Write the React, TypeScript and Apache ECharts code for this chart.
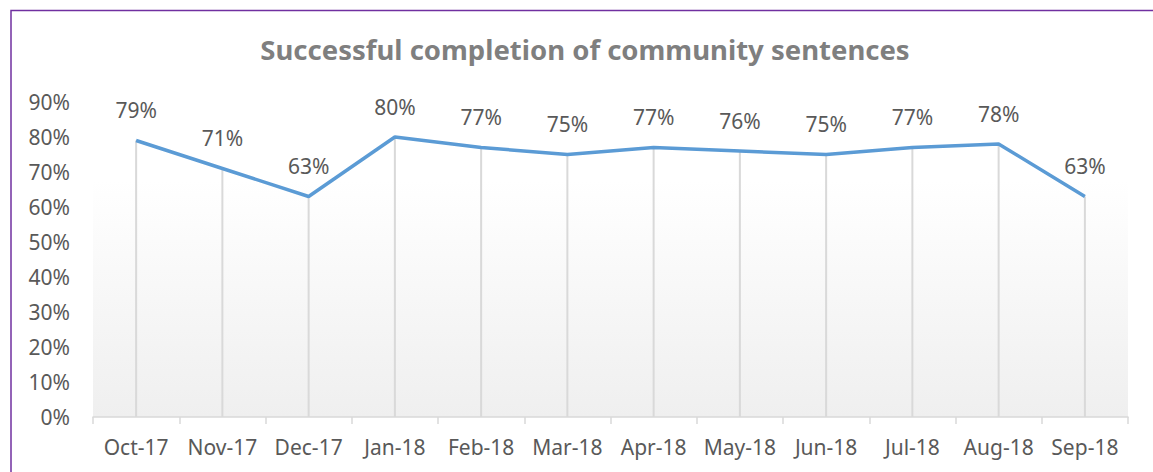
import React, { useEffect, useRef } from "react";
import * as echarts from "echarts";

const categories = ["Oct-17", "Nov-17", "Dec-17", "Jan-18", "Feb-18", "Mar-18", "Apr-18", "May-18", "Jun-18", "Jul-18", "Aug-18", "Sep-18"];
const values = [79, 71, 63, 80, 77, 75, 77, 76, 75, 77, 78, 63];
const yTickMax = 90;
const yTickInterval = 10;
const title = "Successful completion of community sentences";

export default function App() {
  const ref = useRef<HTMLDivElement>(null);
  useEffect(() => {
    if (!ref.current) return;
    const chart = echarts.init(ref.current, null, { renderer: "svg" });
    const font = "Noto Sans";
    chart.setOption({
      animation: false,
      backgroundColor: "#ffffff",
      title: {
        text: title,
        left: 580,
        top: 30,
        textAlign: "center",
        textStyle: { fontFamily: font, fontSize: 27.5, fontWeight: "bold", color: "#7f7f7f" },
      },
      graphic: [
        {
          type: "rect",
          shape: { x: 11, y: 10.5, width: 2000, height: 2000 },
          style: { fill: "none", stroke: "#7030A0", lineWidth: 1.5 },
          silent: true,
        },
      ],
      grid: {
        left: 93,
        right: 25,
        top: 102,
        bottom: 55,
        show: true,
        borderWidth: 0,
        backgroundColor: new echarts.graphic.LinearGradient(0, 0, 0, 1, [
          { offset: 0, color: "#ffffff" },
          { offset: 0.25, color: "#ffffff" },
          { offset: 1, color: "#efefef" },
        ]),
      },
      xAxis: {
        type: "category",
        data: categories,
        boundaryGap: true,
        axisLine: { show: true, lineStyle: { color: "#d9d9d9", width: 1.5 } },
        axisTick: { show: true, length: 7, interval: 0, lineStyle: { color: "#d9d9d9", width: 1.5 } },
        axisLabel: { fontFamily: font, fontSize: 21, color: "#595959", margin: 19, interval: 0, hideOverlap: false },
        splitLine: { show: false },
      },
      yAxis: {
        type: "value",
        min: 0,
        max: yTickMax,
        interval: yTickInterval,
        axisLine: { show: false },
        axisTick: { show: false },
        splitLine: { show: false },
        axisLabel: { fontFamily: font, fontSize: 21, color: "#595959", margin: 23, formatter: "{value}%" },
      },
      series: [
        {
          type: "bar",
          data: values,
          barWidth: 2,
          itemStyle: { color: "#d9d9d9" },
          silent: true,
          z: 1,
        },
        {
          type: "line",
          data: values,
          showSymbol: true,
          symbol: "circle",
          symbolSize: 0,
          itemStyle: { color: "#5B9BD5" },
          lineStyle: { color: "#5B9BD5", width: 3.5 },
          z: 3,
          label: {
            show: true,
            position: "top",
            distance: 20,
            formatter: "{c}%",
            fontFamily: font,
            fontSize: 21,
            color: "#595959",
          },
          labelLayout: { hideOverlap: false },
        },
      ],
    });
    return () => chart.dispose();
  }, []);
  return <div ref={ref} style={{ position: "absolute", left: 0, top: 0, width: 1153, height: 472 }} />;
}
